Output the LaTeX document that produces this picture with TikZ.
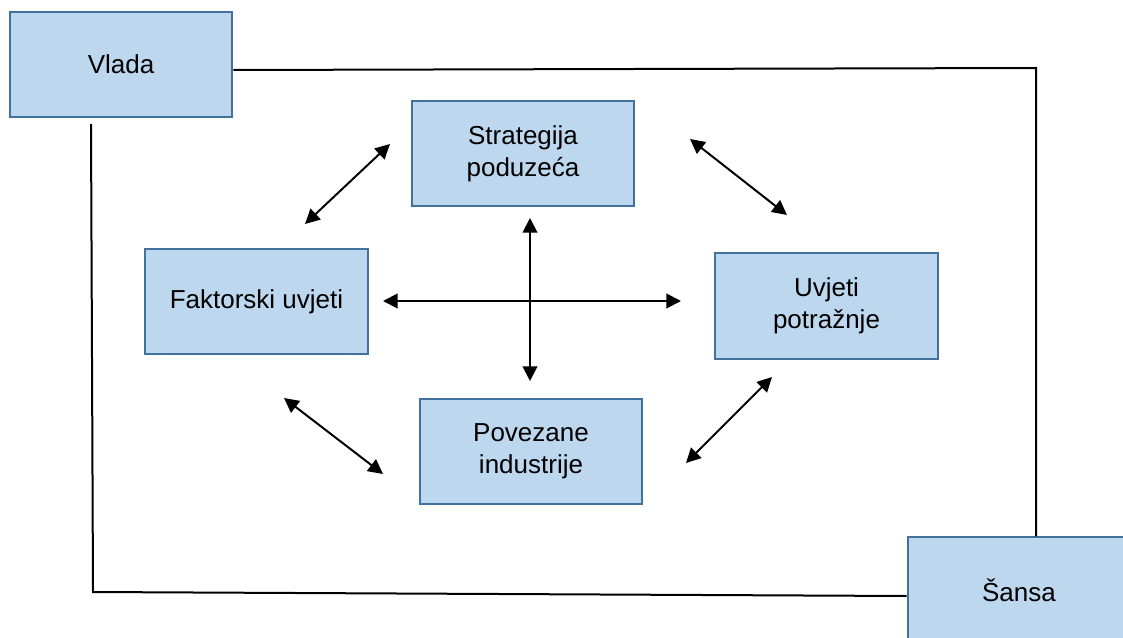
\documentclass[tikz,border=0pt]{standalone}
\usepackage{fontspec}
\setmainfont{Liberation Sans}
\usepackage{xcolor}
\usetikzlibrary{arrows.meta}
\definecolor{boxfill}{RGB}{189,215,238}
\definecolor{boxline}{RGB}{65,113,156}
\tikzstyle{factor} = [rectangle, draw=boxline, fill=boxfill, line width=1.5pt, minimum width=167pt, minimum height=79pt, align=center, inner sep=0pt, font=\fontsize{19.5}{24}\selectfont]
\tikzstyle{link} = [line width=1.5pt]
\tikzstyle{dist} = [line width=1.5pt,<->,>={Triangle[length=11pt,width=11pt]}]

\begin{document}
\begin{tikzpicture}[x=0.75pt,y=-0.75pt]
    \clip (0,0) rectangle (1123,638);
    \fill[white] (0,0) rectangle (1123,638);

    \node (vlada) [factor] at (121,64.5) {Vlada};
    \node (strat) [factor] at (523,153.5) {Strategija\\poduzeća};
    \node (fakt) [factor] at (256.5,301.5) {Faktorski uvjeti};
    \node (uvj) [factor] at (826.5,306) {Uvjeti\\potražnje};
    \node (pov) [factor] at (531,451.5) {Povezane\\industrije};
    \node (sansa) [factor] at (1019,590) {Šansa};

    % outer frame
    \coordinate (c1) at (1036,68);
    \coordinate (c2) at (91,124);
    \coordinate (c3) at (93,592);
    \draw [link] (vlada.east |- 0,70) -- (c1) -- (c1 |- sansa.north);
    \draw [link] (c2) -- (c3) -- (sansa.west |- 0,596);

    % diamond of arrows
    \coordinate (a1) at (305,224);
    \coordinate (a2) at (390,144);
    \coordinate (b1) at (690,139);
    \coordinate (b2) at (787,215);
    \coordinate (d1) at (284,398);
    \coordinate (d2) at (383,474);
    \coordinate (e1) at (772,377);
    \coordinate (e2) at (686,463);
    \draw [dist] (a1) -- (a2);
    \draw [dist] (b1) -- (b2);
    \draw [dist] (d1) -- (d2);
    \draw [dist] (e1) -- (e2);

    % cross
    \coordinate (h1) at (383,301);
    \coordinate (h2) at (681,301);
    \coordinate (v1) at (530,218);
    \coordinate (v2) at (530,381);
    \draw [dist] (h1) -- (h2);
    \draw [dist] (v1) -- (v2);

  \end{tikzpicture}
\end{document}
